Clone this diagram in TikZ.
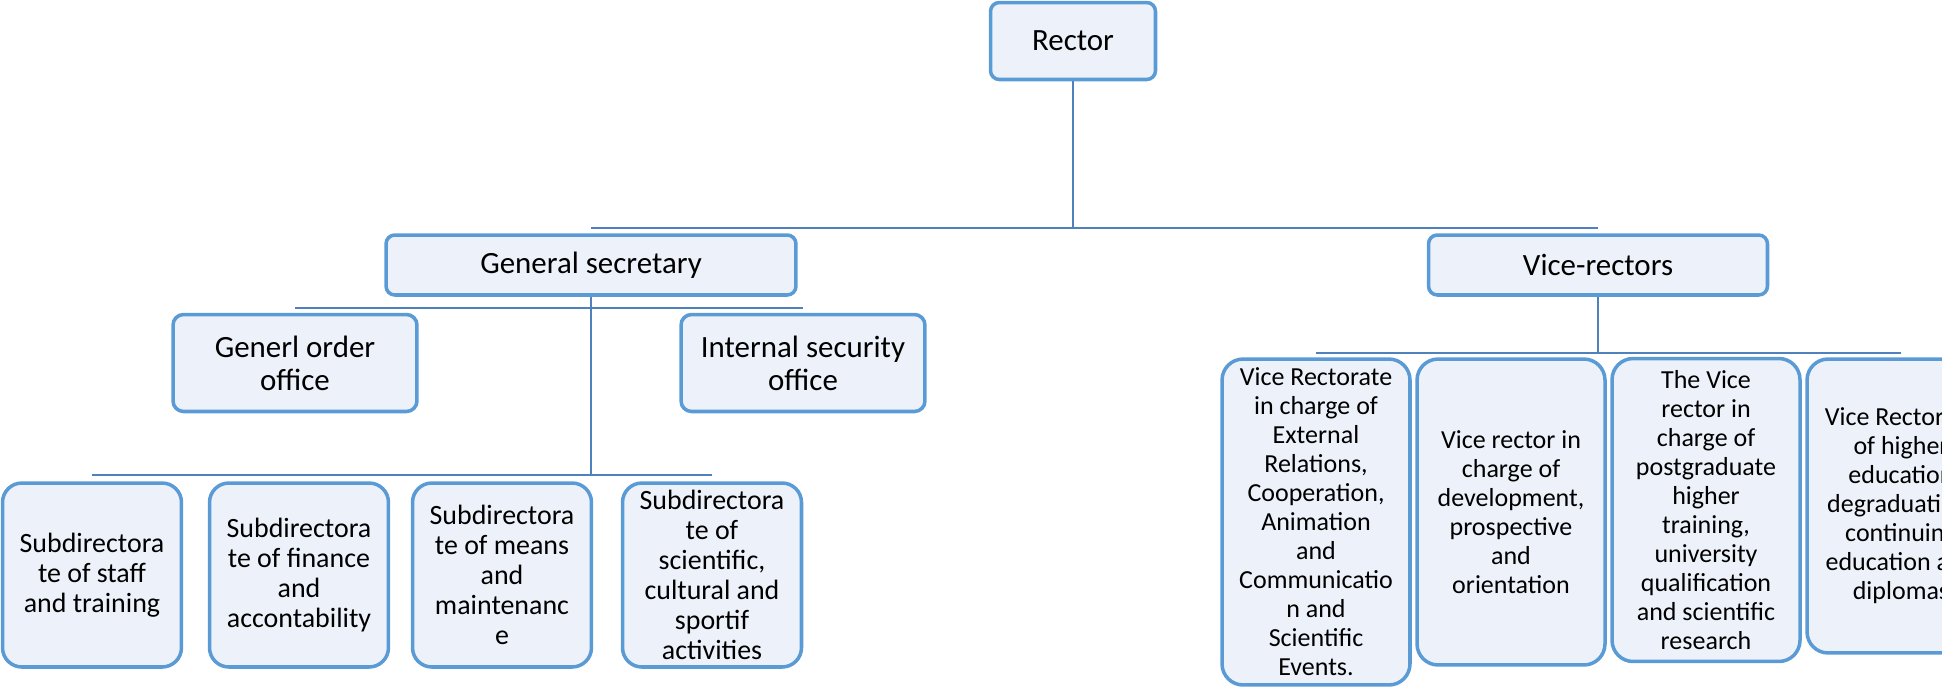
\documentclass[tikz,border=0pt]{standalone}
\usepackage{fontspec}
\setmainfont{Carlito}

\definecolor{boxline}{RGB}{91,155,213}
\definecolor{boxfill}{RGB}{237,242,250}
\definecolor{linkline}{RGB}{79,129,189}

\tikzset{
  unit/.style={draw=boxline, fill=boxfill, line width=2pt, align=center, inner sep=0pt},
  headbox/.style={unit, rounded corners=5pt, minimum height=1.2cm, font=\fontsize{17.6}{18.8}\selectfont},
  officebox/.style={unit, rounded corners=6pt, minimum width=4.88cm, minimum height=1.94cm, font=\fontsize{17.6}{18.8}\selectfont},
  subbox/.style={unit, rounded corners=11pt, minimum width=3.58cm, minimum height=3.68cm, font=\fontsize{15.9}{17.1}\selectfont},
  vicebox/.style={unit, rounded corners=12pt, minimum width=3.76cm, font=\fontsize{14.8}{16.5}\selectfont},
  link/.style={draw=linkline, line width=1.4pt}
}

\begin{document}
\begin{tikzpicture}[x=0.02cm, y=-0.02cm]
  \clip (0,0) rectangle (1942,687);

  % Top of the tree
  \node[headbox, minimum width=3.3cm, minimum height=1.54cm] (rector) at (1073,41) {Rector};
  \node[headbox, minimum width=8.2cm] (gensec) at (591,265) {General secretary};
  \node[headbox, minimum width=6.78cm] (vicerec) at (1598,265) {Vice-rectors};

  \coordinate (topbus) at (1073,228);
  \draw[link] (rector) -- (topbus);
  \draw[link] (gensec.north |- topbus) -- (vicerec.north |- topbus);

  % Offices under the general secretary
  \node[officebox] (order) at (295,363) {Generl order\\office};
  \node[officebox] (security) at (803,363) {Internal security\\office};

  \coordinate (midbus) at (591,308);
  \draw[link] (order.north |- midbus) -- (security.north |- midbus);

  % Subdirectorates
  \foreach \x/\txt [count=\i] in {
      92/{Subdirectora\\te of staff\\and training},
      299/{Subdirectora\\te of finance\\and\\accontability},
      502/{Subdirectora\\te of means\\and\\maintenanc\\e},
      712/{Subdirectora\\te of\\scientific,\\cultural and\\sportif\\activities}} {
    \node[subbox] (sub-\i) at (\x,575) {\txt};
  }

  \coordinate (subbus) at (591,475);
  \draw[link] (gensec) -- (subbus);
  \draw[link] (sub-1.north |- subbus) -- (sub-4.north |- subbus);

  % Vice rectorates
  \foreach \x/\y/\h/\txt [count=\i] in {
      1316/522/6.52/{Vice Rectorate\\in charge of\\External\\Relations,\\Cooperation,\\Animation\\and\\Communicatio\\n and\\Scientific\\Events.},
      1511/512/6.12/{Vice rector in\\charge of\\development,\\prospective\\and\\orientation},
      1706/510/6.06/{The Vice\\rector in\\charge of\\postgraduate\\higher\\training,\\university\\qualification\\and scientific\\research},
      1901/506/5.88/{Vice Rectorate\\of higher\\education\\degraduation,\\continuing\\education and\\diplomas}} {
    \node[vicebox, minimum height=\h cm] (vr-\i) at (\x,\y) {\txt};
  }

  \coordinate (vrbus) at (1598,353);
  \draw[link] (vicerec) -- (vrbus);
  \draw[link] (vr-1.north |- vrbus) -- (vr-4.north |- vrbus);

\end{tikzpicture}
\end{document}
